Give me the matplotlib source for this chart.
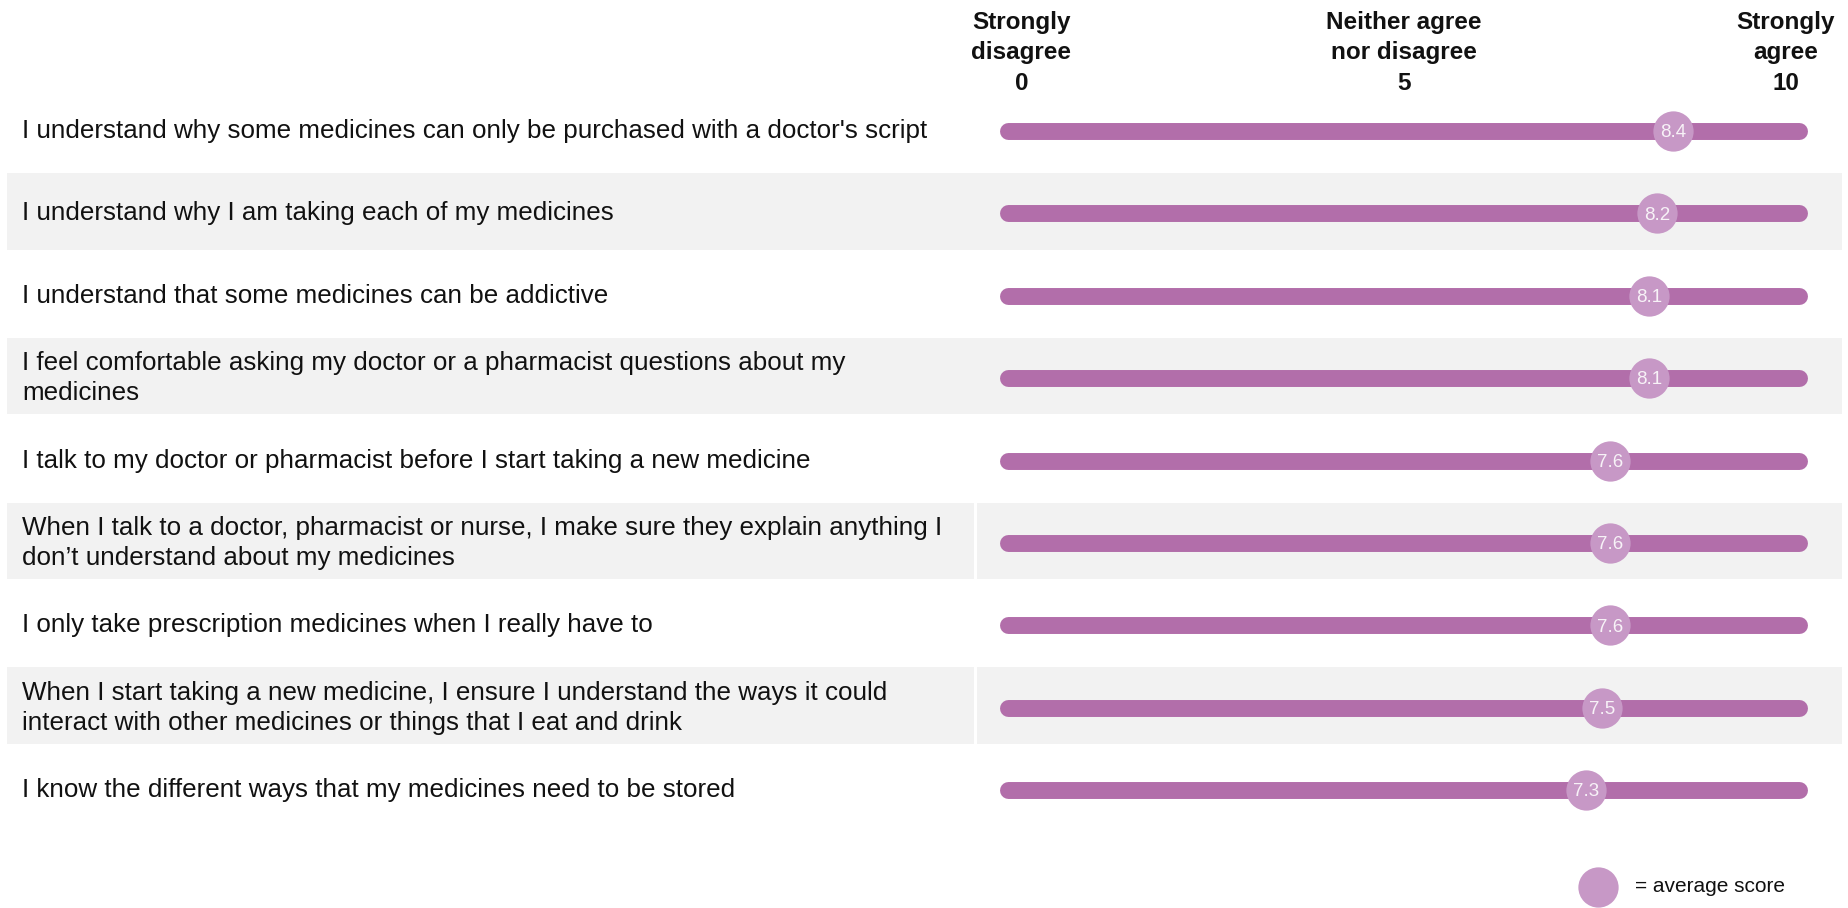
import matplotlib
matplotlib.use("Agg")
import matplotlib.pyplot as plt
import matplotlib.transforms as mtransforms

plt.rcParams["font.family"] = ["Liberation Sans", "DejaVu Sans"]

# Survey statements and their average agreement scores (0-10)
statements = [
    "I understand why some medicines can only be purchased with a doctor's script",
    "I understand why I am taking each of my medicines",
    "I understand that some medicines can be addictive",
    "I feel comfortable asking my doctor or a pharmacist questions about my\nmedicines",
    "I talk to my doctor or pharmacist before I start taking a new medicine",
    "When I talk to a doctor, pharmacist or nurse, I make sure they explain anything I\ndon\u2019t understand about my medicines",
    "I only take prescription medicines when I really have to",
    "When I start taking a new medicine, I ensure I understand the ways it could\ninteract with other medicines or things that I eat and drink",
    "I know the different ways that my medicines need to be stored",
]
scores = [8.4, 8.2, 8.1, 8.1, 7.6, 7.6, 7.6, 7.5, 7.3]

scale_ticks = [0, 5, 10]
scale_labels = ["Strongly\ndisagree\n0", "Neither agree\nnor disagree\n5", "Strongly\nagree\n10"]
legend_text = "= average score"

BAR = "#B26EAA"
DOT = "#C798C6"
BAND = "#F2F2F2"
TEXT = "#111111"

W, H = 1849, 908
fig = plt.figure(figsize=(W / 100, H / 100), dpi=100)
ax = fig.add_axes([0, 0, 1, 1])
ax.set_axis_off()

# Scale: 0 -> 1008.5 px, 10 -> 1799.5 px ; rows start at 131 px, 82.4 px apart
x0_px, x10_px = 1008.5, 1799.5
ppu = (x10_px - x0_px) / 10
ax.set_xlim(-x0_px / ppu, (W - x0_px) / ppu)
row0_px, row_step = 131, 82.4
ax.set_ylim((H - row0_px) / row_step, -row0_px / row_step)

ytr = ax.get_yaxis_transform()
n = len(statements)

# alternating shaded bands
split_rows = {5, 7}
for i in range(n):
    if i % 2 == 1:
        if i in split_rows:
            ax.axhspan(i - 0.49, i + 0.44, xmin=0.0038, xmax=0.5268, color=BAND, lw=0, zorder=0)
            ax.axhspan(i - 0.49, i + 0.44, xmin=0.5285, xmax=0.9962, color=BAND, lw=0, zorder=0)
        else:
            ax.axhspan(i - 0.49, i + 0.44, xmin=0.0038, xmax=0.9962, color=BAND, lw=0, zorder=0)

for i, (txt, s) in enumerate(zip(statements, scores)):
    ax.text(0.0119, i, txt, transform=ytr, ha="left", va="center",
            fontsize=18.7, color=TEXT, linespacing=1.33)
    ax.plot([scale_ticks[0], scale_ticks[-1]], [i, i], color=BAR, lw=12.2,
            solid_capstyle="round", zorder=2)
    ax.plot(s, i, "o", ms=29, color=DOT, mec="none", zorder=3)
    ax.text(s, i + 0.02, f"{s:.1f}", ha="center", va="center", fontsize=13.5,
            color="#F7F2F7", zorder=4)

# scale header
offsets = [13, 0, -14]
for t, lab, dx in zip(scale_ticks, scale_labels, offsets):
    tr = ax.transData + mtransforms.ScaledTranslation(dx / 100, 0, fig.dpi_scale_trans)
    ax.text(t, -0.95, lab, transform=tr, ha="center", va="center",
            fontsize=17.5, fontweight="bold", color=TEXT, linespacing=1.42)

# legend key
fig.lines.append(plt.Line2D([1598 / W], [1 - 887 / H], marker="o", ms=29, color=DOT,
                            mec="none", transform=fig.transFigure))
fig.text(1635 / W, 1 - 887 / H, legend_text, ha="left", va="center",
         fontsize=15, color=TEXT)

fig.savefig("out.png", dpi=100, facecolor="white")
